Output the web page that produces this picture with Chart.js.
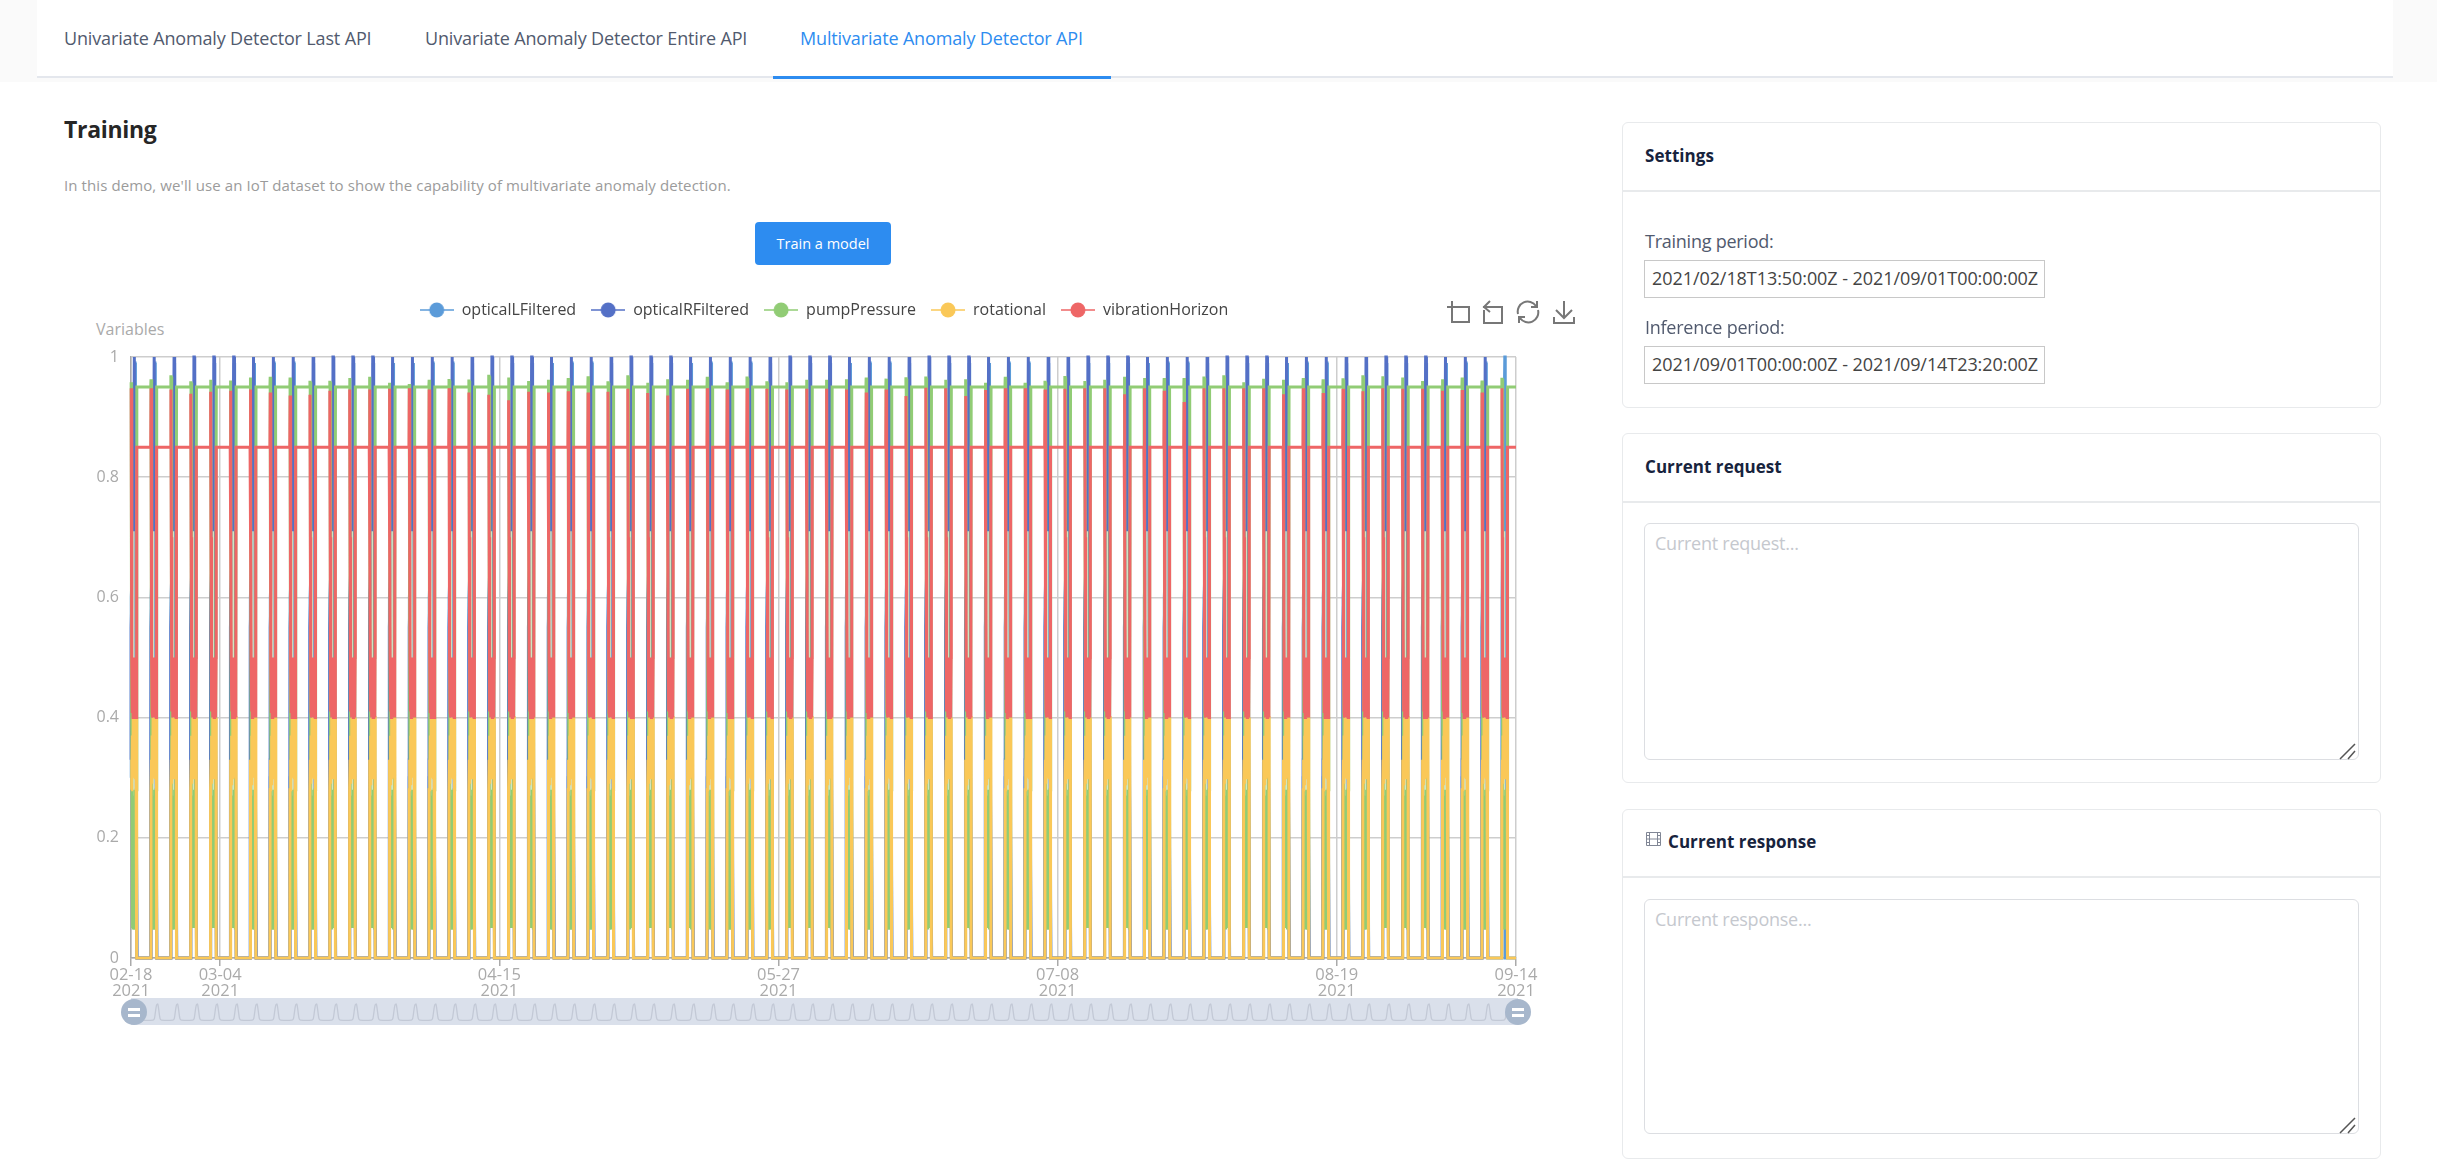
<!DOCTYPE html>
<html>
<head>
<meta charset="utf-8">
<title>Multivariate Anomaly Detector API</title>
<script src="https://cdn.jsdelivr.net/npm/chart.js@4"></script>
<style>
    html, body { margin: 0; padding: 0; background: #fff; width: 2437px; height: 1173px; overflow: hidden; }
    body { font-family: "Open Sans", sans-serif; color: #515a6e; position: relative; }
    .abs { position: absolute; white-space: nowrap; }
    .tab { top: 20px; line-height: 36px; font-size: 18px; letter-spacing: -0.15px; color: #515a6e; }
    .card { position: absolute; left: 1622px; width: 757px; border: 1.5px solid #e8eaec; border-radius: 6px; box-sizing: content-box; }
    .divider { position: absolute; left: 1622px; width: 759px; height: 1.5px; background: #e8eaec; }
    .cardTitle { left: 1645px; font-size: 17px; line-height: 26px; font-weight: 700; color: #17233d; letter-spacing: 0.05px; }
    .label { left: 1645px; font-size: 18px; line-height: 26px; color: #515a6e; letter-spacing: -0.25px; }
    .period { left: 1644px; width: 401px; height: 38px; box-sizing: border-box; border: 1.5px solid #c8c8c8; font-size: 18px; line-height: 35px; padding-left: 7px; color: #444; letter-spacing: -0.07px; }
    textarea { position: absolute; left: 1644px; width: 715px; box-sizing: border-box; border: 1.5px solid #dcdee2; border-radius: 6px; padding: 6px 10px; font-family: "Open Sans", sans-serif; font-size: 18px; line-height: 26px; letter-spacing: -0.25px; outline: none; resize: none; }
    textarea::placeholder { color: #c5c8ce; }
    .handle { position: absolute; width: 26px; height: 26px; border-radius: 50%; background: #a7b7cc; top: 999px; }
    .handle i { position: absolute; left: 7px; width: 12px; height: 2.5px; background: #fff; }
    svg.tool { position: absolute; fill: none; stroke: #777; stroke-width: 2; }
    svg.grip { position: absolute; fill: none; stroke: #555; stroke-width: 1.5; }
</style>
</head>
<body>

<!-- top tabs -->
<div class="abs" style="left:0;top:0;width:2437px;height:82px;background:#fafafa"></div>
<div class="abs" style="left:37px;top:0;width:2356px;height:76px;background:#fff;border-bottom:2px solid #e4e7ed"></div>
<div class="abs" style="left:773px;top:76px;width:338px;height:3px;background:#2d8cf0"></div>
<div class="abs tab" style="left:64px">Univariate Anomaly Detector Last API</div>
<div class="abs tab" style="left:425px">Univariate Anomaly Detector Entire API</div>
<div class="abs tab" style="left:800px;color:#2d8cf0">Multivariate Anomaly Detector API</div>

<!-- left column -->
<div class="abs" style="left:64px;top:111px;line-height:36px;font-size:23px;font-weight:700;color:#262626;letter-spacing:-0.3px">Training</div>
<div class="abs" style="left:64px;top:172px;line-height:26px;font-size:15px;letter-spacing:0.1px;color:#9b9b9b">In this demo, we'll use an IoT dataset to show the capability of multivariate anomaly detection.</div>
<div class="abs" style="left:755px;top:222px;width:136px;height:43px;border-radius:4px;background:#2d8cf0;color:#fff;font-size:14.5px;line-height:43px;text-align:center">Train a model</div>
<div class="abs" style="left:96px;top:318px;line-height:22px;font-size:16px;color:#aaa">Variables</div>

<div class="abs" style="left:64px;top:290px;width:1520px;height:720px"><canvas id="mainChart" width="1520" height="720"></canvas></div>

<!-- toolbox -->
<svg class="tool" style="left:1446px;top:300px" width="24" height="24" viewBox="0 0 24 24"><path d="M6 1v21h17V7H1"/></svg>
<svg class="tool" style="left:1482px;top:300px" width="22" height="24" viewBox="0 0 22 24"><path d="M1 7h19v16H2V10M8 1L2 7l6 5"/></svg>
<svg class="tool" style="left:1516px;top:300px" width="24" height="24" viewBox="0 0 24 24"><path d="M2 14A10 10 0 0 1 20 6M22 10A10 10 0 0 1 4 18M21 1v6h-6M3 23v-6h6"/></svg>
<svg class="tool" style="left:1553px;top:300px" width="22" height="24" viewBox="0 0 22 24"><path d="M1 17v6h20v-6M11 1v17M3 10l8 8 8-8"/></svg>

<!-- slider under the chart -->
<div class="abs" style="left:131px;top:998px;width:1387px;height:27px;background:#dae0eb"></div>
<div class="abs" style="left:131px;top:998px;width:1385px;height:27px"><canvas id="sliderChart" width="1385" height="27"></canvas></div>
<div class="handle" style="left:121px"><i style="top:9px"></i><i style="top:15px"></i></div>
<div class="handle" style="left:1505px"><i style="top:9px"></i><i style="top:15px"></i></div>

<!-- right column -->
<div class="card" style="top:122px;height:284px"></div>
<div class="divider" style="top:190px"></div>
<div class="abs cardTitle" style="top:143px">Settings</div>
<div class="abs label" style="top:228px">Training period:</div>
<div class="abs period" style="top:260px">2021/02/18T13:50:00Z - 2021/09/01T00:00:00Z</div>
<div class="abs label" style="top:314px">Inference period:</div>
<div class="abs period" style="top:346px">2021/09/01T00:00:00Z - 2021/09/14T23:20:00Z</div>

<div class="card" style="top:433px;height:348px"></div>
<div class="divider" style="top:501px"></div>
<div class="abs cardTitle" style="top:454px">Current request</div>
<textarea style="top:523px;height:237px" placeholder="Current request..."></textarea>
<svg class="grip" style="left:2339px;top:743px" width="18" height="17"><path d="M1 16L16 1M9 16L16 8"/></svg>

<div class="card" style="top:809px;height:348px"></div>
<div class="divider" style="top:876px"></div>
<svg class="abs" style="left:1646px;top:832px" width="15" height="14" viewBox="0 0 15 14" fill="none" stroke="#808695" stroke-width="1"><path d="M.5.5h14v13H.5zM3.5.5v13M11.5.5v13M.5 7h14M.5 3.5h3M.5 10.5h3M11.5 3.5h3M11.5 10.5h3"/></svg>
<div class="abs cardTitle" style="top:829px;left:1668px">Current response</div>
<textarea style="top:899px;height:235px" placeholder="Current response..."></textarea>
<svg class="grip" style="left:2339px;top:1117px" width="18" height="17"><path d="M1 16L16 1M9 16L16 8"/></svg>

<script>
const START = Date.UTC(2021, 1, 18, 13, 50);
const END = Date.UTC(2021, 8, 14, 23, 20);
const HOUR = 3600000;
const CYCLE_HOURS = 71.74;

const tickDates = [
    START,
    Date.UTC(2021, 2, 4),
    Date.UTC(2021, 3, 15),
    Date.UTC(2021, 4, 27),
    Date.UTC(2021, 6, 8),
    Date.UTC(2021, 7, 19),
    END
];

// top of the little bump at the start of each cycle
const pumpPeaks = [
    .958, .963, .967, .957, .962, .961, .966, .967, .966, .958, .958, .965, .967, .957, .955, .962, .961, .960, .968, .966,
    .960, .962, .965, .968, .957, .967, .957, .963, .962, .967, .958, .965, .957, .958, .962, .962, .963, .966, .964, .964,
    .965, .962, .963, .957, .967, .957, .958, .966, .960, .962, .967, .965, .965, .965, .965, .967, .958, .964, .962, .965,
    .963, .962, .967, .968, .966, .960, .963, .966, .961, .963
];
const vibrationPeaks = [
    .948, .948, .946, .939, .942, .944, .946, .941, .936, .937, .944, .946, .946, .947, .948, .946, .948, .941, .937, .928,
    .942, .941, .943, .941, .942, .947, .940, .936, .947, .948, .946, .948, .947, .946, .947, .947, .946, .941, .946, .935,
    .949, .948, .935, .945, .948, .948, .946, .947, .948, .948, .938, .948, .944, .925, .948, .948, .948, .948, .938, .948,
    .940, .947, .943, .948, .947, .947, .944, .945, .941, .948
];

// one working cycle of each sensor: [hours from cycle start, value]
const cycleShape = {
    opticalLFiltered: [[-0.5, 0], [0.3, .3], [1, .6], [10, .72], [14, .99], [15, .99], [16, .8], [21.5, 0]],
    opticalRFiltered: [[-0.5, 0], [0.2, .33], [0.6, .55], [9.5, .72], [12, 1], [13.5, 1], [15, .7], [21.5, 0]],
    pumpPressure: [[-0.5, .95], [0.5, "peak"], [1.5, "peak"], [3, .4], [4, .27], [5, .05], [6.5, .28], [8, .05], [9.5, .27], [10, .71], [10.6, .27],
        [12, .05], [13.5, .28], [15, .05], [16.5, .27], [18, .05], [19, .28], [21, .95]],
    rotational: [[-0.5, 0], [0.3, .28], [2, .33], [3.5, .29], [5, .37], [6.5, .3], [8, .4], [9.5, .3], [11, .4], [12.5, .31], [14, .4],
        [15.5, .3], [17, .4], [18.5, .31], [20, .4], [20.5, .4], [20.9, 0]],
    vibrationHorizon: [[-0.5, .85], [0.7, "peak"], [2, .7], [3.2, .5], [4.5, .41], [6, .5], [7.5, .4], [9, .5], [10.5, .41], [12, .5], [13.5, .4],
        [15, .5], [16.5, .41], [18, .5], [19.5, .4], [20.3, .5], [20.8, .85]]
};
// the last cycle in the picture only has the left optical sensor, with a straight drop
const lastOpticalL = [[-0.5, 0], [0.3, .3], [1, .6], [11, 1], [12.3, 1], [12.6, 0], [21.5, 0]];

function buildSeries(name, peaks) {
    const points = [];
    for (let i = 0; i < 70; i++) {
        if (name === "opticalRFiltered" && i === 69) break;
        const shape = (name === "opticalLFiltered" && i === 69) ? lastOpticalL : cycleShape[name];
        const begin = START + i * CYCLE_HOURS * HOUR;
        shape.forEach(p => {
            const x = begin + p[0] * HOUR;
            if (x < START) return;
            points.push({ x: x, y: p[1] === "peak" ? peaks[i] : p[1] });
        });
    }
    if (name !== "opticalRFiltered") points.push({ x: END, y: points[points.length - 1].y });
    return points;
}

const seriesList = [
    { name: "opticalLFiltered", color: "#5b9bd9" },
    { name: "opticalRFiltered", color: "#5470c6" },
    { name: "pumpPressure", color: "#91cc75", peaks: pumpPeaks },
    { name: "rotational", color: "#fac858" },
    { name: "vibrationHorizon", color: "#ee6666", peaks: vibrationPeaks }
];

function legendIcon(color) {
    const c = document.createElement("canvas");
    c.width = 34;
    c.height = 20;
    const ctx = c.getContext("2d");
    ctx.strokeStyle = color;
    ctx.fillStyle = color;
    ctx.lineWidth = 1.5;
    ctx.beginPath();
    ctx.moveTo(0, 10);
    ctx.lineTo(34, 10);
    ctx.stroke();
    ctx.beginPath();
    ctx.arc(17, 10, 7.5, 0, Math.PI * 2);
    ctx.fill();
    return c;
}

function axisLabel(value) {
    const d = new Date(value);
    const mm = String(d.getUTCMonth() + 1).padStart(2, "0");
    const dd = String(d.getUTCDate()).padStart(2, "0");
    return [mm + "-" + dd, String(d.getUTCFullYear())];
}

// keeps a gap between the legend and the plot
const legendGap = {
    id: "legendGap",
    beforeInit(chart) {
        const fit = chart.legend.fit;
        chart.legend.fit = function () {
            fit.bind(chart.legend)();
            this.height += 29;
        };
    }
};

new Chart(document.getElementById("mainChart"), {
    type: "line",
    plugins: [legendGap],
    data: {
        datasets: seriesList.map((s, i) => {
            const set = {
                label: s.name,
                data: buildSeries(s.name, s.peaks),
                borderColor: s.color,
                backgroundColor: s.color,
                borderWidth: 3,
                pointRadius: 0,
                tension: 0,
                fill: false,
                clip: false,
                order: seriesList.length - i,
                pointStyle: legendIcon(s.color)
            };
            if (s.name === "pumpPressure") {
                // the thin pale line inside the pulse
                set.segment = {
                    borderColor: ctx => (ctx.p0.parsed.y === .71 || ctx.p1.parsed.y === .71) ? "#cfe6c2" : undefined,
                    borderWidth: ctx => (ctx.p0.parsed.y === .71 || ctx.p1.parsed.y === .71) ? 1.5 : undefined
                };
            }
            return set;
        })
    },
    options: {
        responsive: false,
        animation: false,
        devicePixelRatio: 1,
        events: [],
        layout: { padding: { left: 0, right: 0, top: -3, bottom: 0 } },
        plugins: {
            tooltip: { enabled: false },
            legend: {
                display: true,
                position: "top",
                labels: {
                    usePointStyle: true,
                    pointStyleWidth: 34,
                    padding: 15,
                    color: "#444",
                    font: { family: "Open Sans", size: 16 },
                    generateLabels: chart => seriesList.map((s, i) => ({
                        text: s.name,
                        pointStyle: chart.data.datasets[i].pointStyle,
                        datasetIndex: i,
                        fontColor: "#444",
                        strokeStyle: s.color,
                        fillStyle: s.color,
                        lineWidth: 0
                    }))
                }
            }
        },
        scales: {
            x: {
                type: "linear",
                min: START,
                max: END,
                afterBuildTicks: scale => { scale.ticks = tickDates.map(v => ({ value: v })); },
                afterFit: scale => { scale.height = 52; },
                grid: { color: "#cdcdcd", lineWidth: 1.5, tickColor: "#aaa", tickLength: 8 },
                border: { color: "#aaa", width: 1.5 },
                ticks: {
                    autoSkip: false,
                    maxRotation: 0,
                    padding: 1,
                    color: "#aaa",
                    font: { family: "Open Sans", size: 16.5, lineHeight: 1 },
                    callback: value => axisLabel(value)
                }
            },
            y: {
                min: 0,
                max: 1,
                afterFit: scale => { scale.width = 67; },
                grid: { color: "#cdcdcd", lineWidth: 1.5, drawTicks: false },
                border: { color: "#aaa", width: 1.5 },
                ticks: {
                    stepSize: 0.2,
                    padding: 12,
                    color: "#aaa",
                    font: { family: "Open Sans", size: 16 },
                    callback: value => String(Math.round(value * 10) / 10)
                }
            },
            // empty axis, holds the right margin so the legend stays centred on the canvas
            spacer: {
                position: "right",
                afterFit: scale => { scale.width = 68; },
                grid: { display: false },
                border: { display: false },
                ticks: { display: false }
            }
        }
    }
});

// data shadow in the slider, one soft hump per cycle
const shadowHump = [[8, 0], [13, .1], [18, .7], [21, .95], [25, 1], [28, .7], [33, .1], [38, 0]];
const shadowData = [];
for (let i = 0; i < 70; i++) {
    shadowHump.forEach(p => {
        const x = START + (i * CYCLE_HOURS + p[0]) * HOUR;
        if (x <= END) shadowData.push({ x: x, y: p[1] });
    });
}

new Chart(document.getElementById("sliderChart"), {
    type: "line",
    data: {
        datasets: [{
            data: shadowData,
            borderColor: "#c3c9d6",
            borderWidth: 1.3,
            pointRadius: 0,
            tension: 0.2,
            fill: false
        }]
    },
    options: {
        responsive: false,
        animation: false,
        devicePixelRatio: 1,
        events: [],
        plugins: { legend: { display: false }, tooltip: { enabled: false } },
        scales: {
            x: { type: "linear", display: false, min: START, max: END },
            y: { display: false, min: -0.31, max: 1.375 }
        }
    }
});
</script>
</body>
</html>
